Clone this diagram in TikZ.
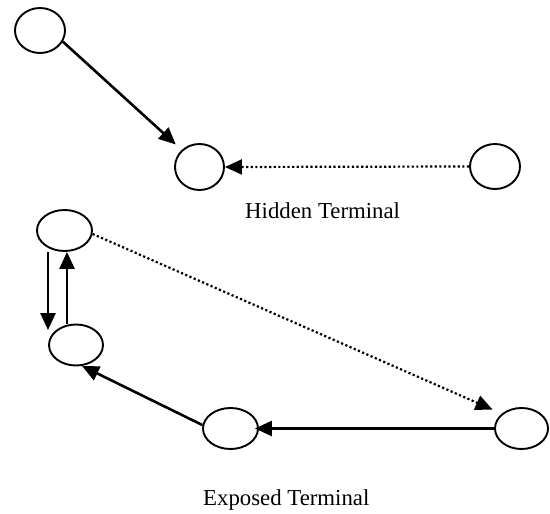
\documentclass[tikz,border=0pt]{standalone}
\usepackage{fontspec}
\setmainfont{Liberation Serif}
\usetikzlibrary{shapes.geometric,arrows.meta}
\begin{document}
\begin{tikzpicture}[x=1pt,y=-1pt,
  station/.style={ellipse,draw,line width=1.9pt,inner sep=0pt},
  arr/.style={line width=2.6pt,-{Triangle[length=17pt,width=15pt]}},
  dotarr/.style={line width=2.2pt,dash pattern=on 2.2pt off 2.4pt,-{Triangle[length=17pt,width=15pt]}},
  lbl/.style={anchor=base west,inner sep=0pt,font=\fontsize{22.8}{27}\selectfont}]
\useasboundingbox (0,0) rectangle (550,514);
\node[station,minimum width=50pt,minimum height=45pt] (e1) at (40,30.5) {};
\node[station,minimum width=49pt,minimum height=46pt] (e2) at (199.5,167) {};
\node[station,minimum width=50pt,minimum height=45pt] (e3) at (495,166.5) {};
\node[station,minimum width=55pt,minimum height=41pt] (e4) at (64.5,230.5) {};
\node[station,minimum width=54pt,minimum height=41pt] (e5) at (76,345) {};
\node[station,minimum width=55pt,minimum height=41pt] (e6) at (230.5,428.5) {};
\node[station,minimum width=53pt,minimum height=41pt] (e7) at (521.5,428.5) {};
\node[lbl] (hid) at (245,218) {Hidden Terminal};
\node[lbl] (exp) at (203,505) {Exposed Terminal};
% hidden terminal
\draw[arr,shorten >=8pt] (e1.-26) -- (e2.136);
\draw[dotarr] (e3.west) -- (e2.east);
% exposed terminal
\draw[arr] ([xshift=-16.5pt]e4.south) -- ([xshift=-28pt,yshift=-6.5pt]e5.north);
\draw[arr] ([xshift=-9pt]e5.north) -- ([xshift=2.5pt]e4.south);
\draw[arr] (e6.173) -- (e5.-74);
\draw[arr,shorten >=-4pt] (e7.west) -- (e6.east);
\draw[dotarr,shorten >=10pt] (e4.-7) -- (e7.143);
\end{tikzpicture}
\end{document}
